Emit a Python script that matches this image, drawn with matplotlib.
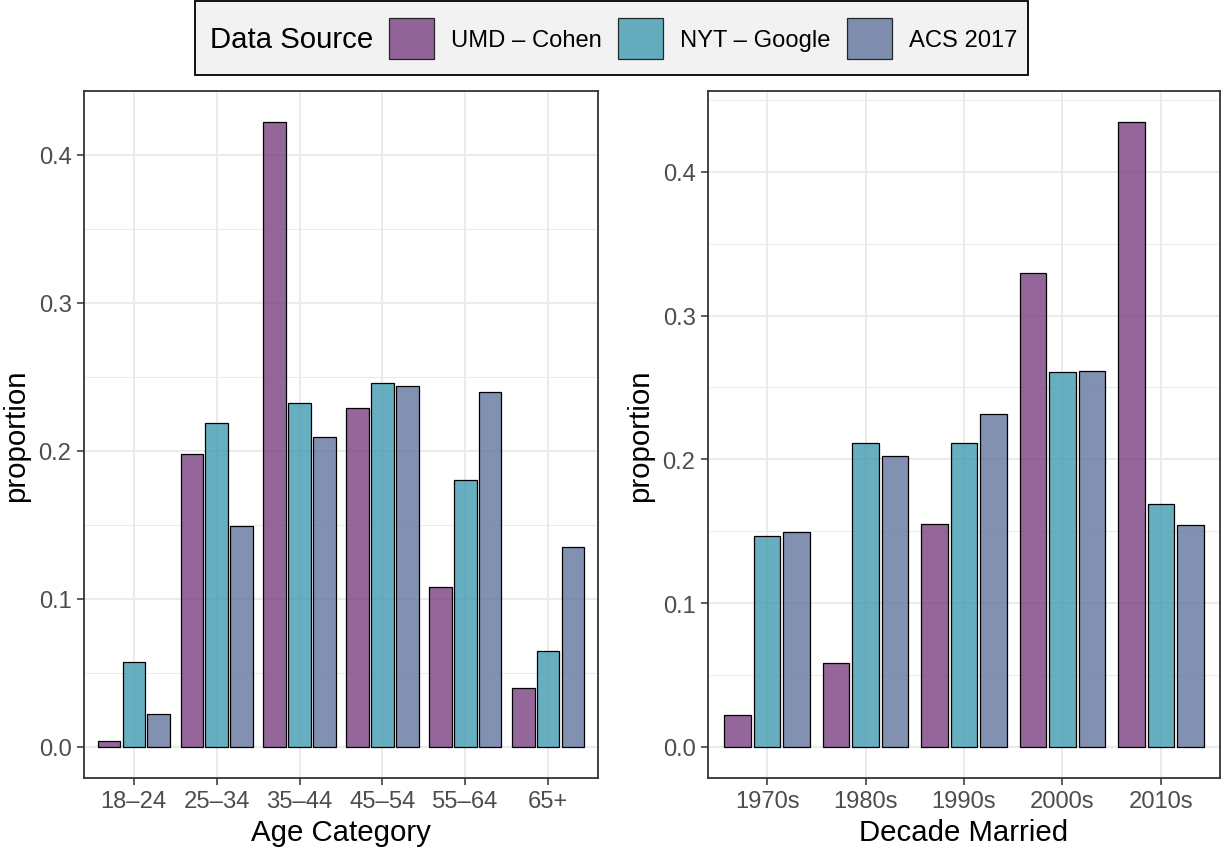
import matplotlib
matplotlib.use('Agg')
import matplotlib.pyplot as plt
from matplotlib.patches import Patch, Rectangle
from matplotlib.ticker import MultipleLocator
import numpy as np

plt.rcParams['font.family'] = ['Liberation Sans', 'DejaVu Sans']

# data
sources = ['UMD – Cohen', 'NYT – Google', 'ACS 2017']
colors = ['#794081', '#419AB1', '#63749F']

age_cats = ['18–24', '25–34', '35–44', '45–54', '55–64', '65+']
age_umd = [0.004, 0.1975, 0.422, 0.229, 0.108, 0.040]
age_nyt = [0.057, 0.219, 0.2325, 0.246, 0.180, 0.065]
age_acs = [0.022, 0.149, 0.2095, 0.244, 0.240, 0.135]

dec_cats = ['1970s', '1980s', '1990s', '2000s', '2010s']
dec_umd = [0.022, 0.058, 0.155, 0.3295, 0.4345]
dec_nyt = [0.1465, 0.2113, 0.2113, 0.2608, 0.169]
dec_acs = [0.1497, 0.2023, 0.2315, 0.2615, 0.1546]

BASE = 21.2
SMALL = 17.1


def bar_panel(ax, cats, series, xlabel):
    x = np.arange(len(cats))
    for j, vals in enumerate(series):
        ax.bar(x + (j - 1) * 0.3, vals, width=0.27, color=colors[j], alpha=0.8,
               edgecolor='none', zorder=2)
        ax.bar(x + (j - 1) * 0.3, vals, width=0.27, facecolor='none',
               edgecolor='black', linewidth=0.9, zorder=3)
    ymax = max(max(s) for s in series)
    ax.set_ylim(-0.05 * ymax, ymax * 1.05)
    ax.set_xlim(-0.6, len(cats) - 0.4)
    ax.set_xticks(x)
    ax.set_xticklabels(cats)
    ax.yaxis.set_major_locator(MultipleLocator(0.1))
    ax.yaxis.set_minor_locator(MultipleLocator(0.05))
    ax.yaxis.set_major_formatter(matplotlib.ticker.FormatStrFormatter('%.1f'))
    ax.tick_params(axis='y', which='minor', length=0)
    ax.grid(which='major', color='#EBEBEB', linewidth=1.4, zorder=0)
    ax.grid(which='minor', axis='y', color='#EBEBEB', linewidth=0.7, zorder=0)
    ax.set_axisbelow(True)
    ax.tick_params(which='major', length=5, width=1.1, color='#333333',
                   labelsize=SMALL, labelcolor='#4D4D4D', pad=4)
    for sp in ax.spines.values():
        sp.set_color('#333333')
        sp.set_linewidth(1.3)
    ax.set_xlabel(xlabel, fontsize=BASE, labelpad=4)
    ax.set_ylabel('proportion', fontsize=BASE, labelpad=6)


fig = plt.figure(figsize=(12.25, 8.54), dpi=100)
ax1 = fig.add_axes([84 / 1225, 1 - 779 / 854, 514 / 1225, 687 / 854])
ax2 = fig.add_axes([708 / 1225, 1 - 779 / 854, 512 / 1225, 687 / 854])

bar_panel(ax1, age_cats, [age_umd, age_nyt, age_acs], 'Age Category')
bar_panel(ax2, dec_cats, [dec_umd, dec_nyt, dec_acs], 'Decade Married')

# legend box on top, title to the left of the keys
fig.patches.append(Rectangle((195 / 1225, 1 - 76 / 854), 833 / 1225, 74 / 854,
                             transform=fig.transFigure, facecolor='#F2F2F2',
                             edgecolor='black', linewidth=1.3, zorder=0))
fig.text(210 / 1225, 1 - 40 / 854, 'Data Source', fontsize=BASE,
         ha='left', va='center')
handles = [Patch(facecolor=c, alpha=0.8, edgecolor='black', linewidth=0.9)
           for c in colors]
fig.legend(handles, sources, loc='center', ncol=3, frameon=False,
           bbox_to_anchor=(703 / 1225, 1 - 39.5 / 854), fontsize=SMALL,
           handlelength=1.9, handleheight=2.3, handletextpad=0.7,
           columnspacing=0.7, borderpad=0)

fig.savefig('out.png', dpi=100)
